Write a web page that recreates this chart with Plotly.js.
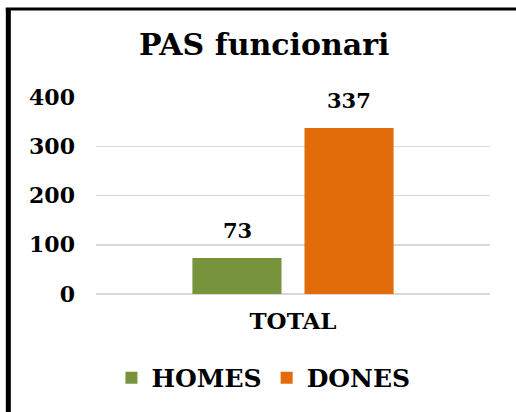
<!DOCTYPE html>
<html>
<head>
<meta charset="utf-8">
<script src="https://cdn.plot.ly/plotly-3.0.1.min.js"></script>
<style>
html,body{margin:0;padding:0;background:#fff;}
#chart{width:516px;height:412px;}
</style>
</head>
<body>
<div id="chart"></div>
<script>
const categories = ["TOTAL"];
const seriesNames = ["HOMES", "DONES"];
const homesValues = [73];
const donesValues = [337];
const seriesColors = ["#77933c", "#e36c0a"];
const yTickValues = [0, 100, 200, 300, 400];

const FONT = "DejaVu Serif";

const traces = [
  {type: "bar", name: seriesNames[0], x: categories, y: homesValues, marker: {color: seriesColors[0]}, hoverinfo: "none"},
  {type: "bar", name: seriesNames[1], x: categories, y: donesValues, marker: {color: seriesColors[1]}, hoverinfo: "none"}
];

const annotations = [];
[homesValues, donesValues].forEach((vals, si) => {
  vals.forEach((v, i) => {
    annotations.push({
      x: categories[i], y: v, xref: "x", yref: "y",
      text: "<b>" + v + "</b>", showarrow: false,
      xshift: si === 0 ? -56 : 56, yshift: 13, yanchor: "bottom",
      font: {family: FONT, size: 21, color: "#000"}
    });
  });
});

const layout = {
  width: 516, height: 412,
  margin: {l: 96, r: 26, t: 97, b: 117},
  paper_bgcolor: "#fff", plot_bgcolor: "#fff",
  font: {family: FONT, color: "#000"},
  title: {
    text: "<b>PAS funcionari</b>",
    font: {family: FONT, size: 30, color: "#000"},
    x: 0.512, xanchor: "center",
    y: 1 - 44 / 412, yanchor: "middle", yref: "container"
  },
  barmode: "group",
  bargap: 0.431,
  bargroupgap: 0.205,
  xaxis: {
    type: "category",
    tickvals: categories,
    ticktext: categories.map(c => "<b>" + c + "</b>"),
    showgrid: false, zeroline: false, showline: false,
    ticks: "", ticklabelstandoff: 11,
    tickfont: {family: FONT, size: 23, color: "#000"}
  },
  yaxis: {
    range: [0, 400], tickvals: yTickValues,
    ticktext: yTickValues.map(v => "<b>" + v + "</b>"),
    showgrid: true, gridcolor: "#d9d9d9", gridwidth: 1.5,
    zeroline: true, zerolinecolor: "#d9d9d9", zerolinewidth: 1.5,
    showline: false, ticks: "", ticklabelstandoff: 20,
    tickfont: {family: FONT, size: 22, color: "#000"}
  },
  showlegend: true,
  legend: {
    orientation: "h",
    x: 0.425, xanchor: "center",
    y: -0.419, yanchor: "middle",
    font: {family: FONT, size: 25, color: "#000", weight: "bold"},
    itemclick: false, itemdoubleclick: false
  },
  annotations: annotations,
  shapes: [
    {type: "line", xref: "paper", yref: "paper", x0: -0.2225, x1: -0.2225, y0: 1.448, y1: -0.7, line: {color: "#000", width: 5}},
    {type: "line", xref: "paper", yref: "paper", x0: -0.229, x1: 1.1, y0: 1.447, y1: 1.447, line: {color: "#000", width: 3}}
  ]
};

Plotly.newPlot("chart", traces, layout, {displayModeBar: false, staticPlot: true});
</script>
</body>
</html>
